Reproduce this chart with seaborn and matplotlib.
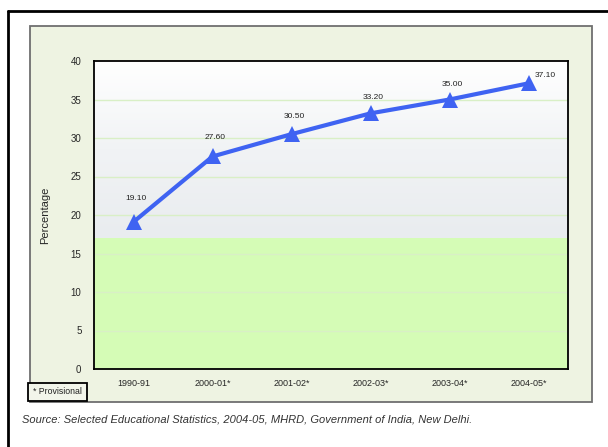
import numpy as np
import pandas as pd
import matplotlib
matplotlib.use("Agg")
import matplotlib.pyplot as plt
import seaborn as sns
from matplotlib.patches import Rectangle
from matplotlib.lines import Line2D
from matplotlib.colors import LinearSegmentedColormap

sns.set_style("white")
plt.rcParams['font.family'] = ['Liberation Sans', 'DejaVu Sans']

years = ["1990-91", "2000-01*", "2001-02*", "2002-03*", "2003-04*", "2004-05*"]
values = [19.10, 27.60, 30.50, 33.20, 35.00, 37.10]
labels = ["19.10", "27.60", "30.50", "33.20", "35.00", "37.10"]
yticks = [0, 5, 10, 15, 20, 25, 30, 35, 40]

W, H = 608, 447
fig = plt.figure(figsize=(W / 100, H / 100), dpi=100)
fig.patch.set_facecolor("white")

def fx(px):
    return px / W

def fy(py):
    return 1 - py / H

# outer frame (top and left visible)
fig.add_artist(Line2D([fx(8), fx(610)], [fy(11), fy(11)], color="black", lw=2, transform=fig.transFigure))
fig.add_artist(Line2D([fx(8), fx(8)], [fy(11), fy(450)], color="black", lw=2, transform=fig.transFigure))

# inner panel
fig.add_artist(Rectangle((fx(30), fy(402)), fx(592) - fx(30), fy(26) - fy(402),
                         facecolor="#eef3e2", edgecolor="#6f6f6f", lw=1.3,
                         transform=fig.transFigure, zorder=0))

ax = fig.add_axes([fx(94), fy(369), fx(568) - fx(94), fy(61) - fy(369)])
ax.set_facecolor("white")

# background: green lower band and white-to-grey gradient above
ax.axhspan(0, 17, color="#d5fcb6", zorder=0, lw=0)
cmap = LinearSegmentedColormap.from_list("bg", ["#e9ecef", "#f1f3f5", "#ffffff"])
grad = np.linspace(0, 1, 100).reshape(-1, 1)
ax.imshow(grad, extent=[-0.5, 5.5, 17, 40], origin="lower", cmap=cmap,
          aspect="auto", zorder=0)

for yv in yticks[1:-1]:
    ax.axhline(yv, color="#d9efc6", lw=1.0, zorder=1)

df = pd.DataFrame({"x": np.arange(len(years)), "value": values})
sns.lineplot(data=df, x="x", y="value", ax=ax, color="#3f63f2", lw=3,
             marker="^", markersize=12, markeredgewidth=0, zorder=3)

offsets = [(2, 14), (2, 11), (2, 10), (2, 9), (2, 8), (12, 3)]
for i, (v, lab) in enumerate(zip(values, labels)):
    ax.annotate(lab, (i, v), xytext=offsets[i], textcoords="offset points",
                ha="center", va="bottom", fontsize=6, color="#222222")

ax.set_xlim(-0.5, 5.5)
ax.set_ylim(0, 40)
ax.set_yticks(yticks)
ax.set_yticklabels([str(t) for t in yticks], fontsize=7)
ax.set_xticks(np.arange(-0.5, 6, 1))
ax.set_xticklabels([])
ax.set_xticks(np.arange(len(years)), minor=True)
ax.set_xticklabels(years, minor=True, fontsize=6.5)
ax.tick_params(axis="x", which="major", length=4, width=1, direction="out", color="black")
ax.tick_params(axis="x", which="minor", length=0, pad=7)
ax.tick_params(axis="y", length=3, width=1, direction="out", color="black", pad=6)
ax.set_xlabel("")
ax.set_ylabel("Percentage", fontsize=8, labelpad=15)

for s in ax.spines.values():
    s.set_visible(True)
    s.set_color("black")
    s.set_linewidth(1.3)

# provisional note box
fig.text(fx(33), fy(392), "* Provisional", fontsize=6.3, va="center", ha="left", color="#222222",
         bbox=dict(boxstyle="square,pad=0.55", facecolor="#f2f5ea", edgecolor="black", lw=1.3))

fig.text(fx(22), fy(420), "Source: Selected Educational Statistics, 2004-05, MHRD, Government of India, New Delhi.",
         fontsize=8, style="italic", va="center", ha="left", color="#333333")

fig.savefig("out.png", dpi=100)
